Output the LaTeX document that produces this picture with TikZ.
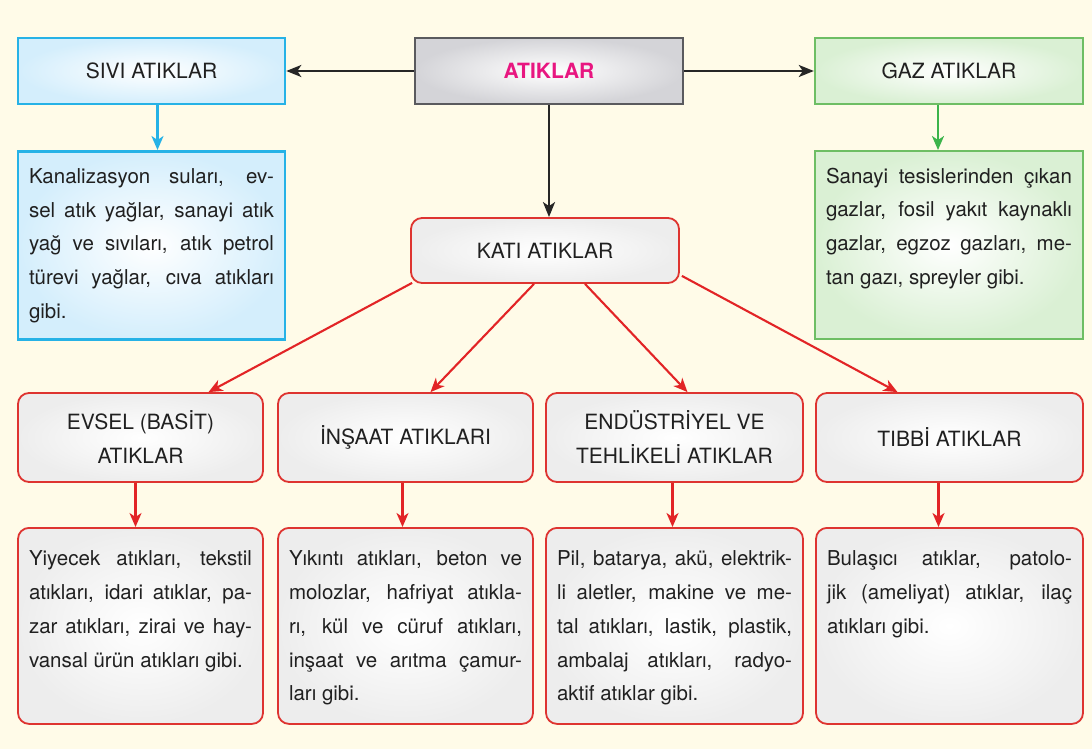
\documentclass[tikz,border=0pt]{standalone}
\usepackage{fontspec}
\setmainfont{TeX Gyre Heros}
\usetikzlibrary{arrows.meta}

\definecolor{bgcream}{RGB}{255,251,232}
\definecolor{sivicyan}{RGB}{38,178,230}
\definecolor{sivifill}{RGB}{212,238,252}
\definecolor{gazgreen}{RGB}{110,190,100}
\definecolor{gazarrow}{RGB}{60,180,75}
\definecolor{gazfill}{RGB}{218,240,212}
\definecolor{katired}{RGB}{222,52,48}
\definecolor{redline}{RGB}{226,36,38}
\definecolor{topgray}{RGB}{90,90,94}
\definecolor{topfill}{RGB}{212,212,216}
\definecolor{titlepink}{RGB}{232,22,128}
\definecolor{textgray}{RGB}{32,32,32}

\begin{document}
\begin{tikzpicture}[x=1pt,y=-1pt,
  every node/.style={text=textgray,font=\fontsize{21}{34}\selectfont},
  head/.style={minimum height=66pt,inner sep=0pt,align=center},
  body/.style={font=\fontsize{20.5}{33.75}\selectfont,align=justify,anchor=north,
    inner xsep=11pt,inner ysep=22pt,text height=16pt},
  sivibox/.style={draw=sivicyan,line width=2.6pt,inner color=white,outer color=sivifill},
  gazbox/.style={draw=gazgreen,line width=2.4pt,inner color=white,outer color=gazfill},
  redbox/.style={draw=katired,line width=1.8pt,rounded corners=11pt,inner color=white,outer color=gray!14},
  blackarrow/.style={draw=black!85,line width=2.4pt,-{Stealth[length=15pt,width=12pt,inset=4pt]}},
  bluearrow/.style={draw=sivicyan,line width=2.2pt,-{Stealth[length=14pt,width=12pt,inset=4pt]}},
  greenarrow/.style={draw=gazarrow,line width=2.2pt,-{Stealth[length=14pt,width=12pt,inset=4pt]}},
  redarrow/.style={draw=redline,line width=2.1pt,-{Stealth[length=14pt,width=12pt,inset=4pt]}}]
%\draw[help lines] (0,0) grid[step=50] (1092,749);
\fill[bgcream] (0,0) rectangle (1092,749);

% top row
\node[head,sivibox,minimum width=267pt] (sivi) at (151.5,71) {SIVI ATIKLAR};
\node[head,draw=topgray,line width=2.6pt,inner color=white,outer color=topfill,minimum width=268pt,
  text=titlepink,font=\fontsize{21}{34}\selectfont\bfseries] (atiklar) at (549,71) {ATIKLAR};
\node[head,gazbox,minimum width=268pt] (gaz) at (949,71) {GAZ ATIKLAR};

\node[body,sivibox,inner ysep=16pt,text width=245pt,text depth=140pt] (sivitext) at (151.5,150)
  {Kanalizasyon suları, ev-\linebreak sel atık yağlar, sanayi atık\linebreak yağ ve sıvıları, atık petrol\linebreak türevi yağlar, cıva atıkları\linebreak gibi.};
\node[body,gazbox,inner ysep=16pt,text width=246pt,text depth=140pt] (gaztext) at (949,150)
  {Sanayi tesislerinden çıkan\linebreak gazlar, fosil yakıt kaynaklı\linebreak gazlar, egzoz gazları, me-\linebreak tan gazı, spreyler gibi.};

\node[head,redbox,minimum width=268pt,minimum height=65pt] (kati) at (545,250.5) {KATI ATIKLAR};

% second row
\node[head,redbox,minimum width=245pt,minimum height=89pt] (evsel) at (140.5,437.5) {EVSEL (BASİT)\\ATIKLAR};
\node[head,redbox,minimum width=255pt,minimum height=89pt] (insaat) at (405.5,437.5) {İNŞAAT ATIKLARI};
\node[head,redbox,minimum width=257pt,minimum height=89pt] (endustri) at (674.5,437.5) {ENDÜSTRİYEL VE\\TEHLİKELİ ATIKLAR};
\node[head,redbox,minimum width=267pt,minimum height=89pt] (tibbi) at (949.5,437.5) {TIBBİ ATIKLAR};

% bottom row
\node[body,redbox,text width=223pt,text depth=136pt] (evseltext) at (140.5,527)
  {Yiyecek atıkları, tekstil\linebreak atıkları, idari atıklar, pa-\linebreak zar atıkları, zirai ve hay-\linebreak vansal ürün atıkları gibi.};
\node[body,redbox,text width=233pt,text depth=136pt] (insaattext) at (405.5,527)
  {Yıkıntı atıkları, beton ve\linebreak molozlar, hafriyat atıkla-\linebreak rı, kül ve cüruf atıkları,\linebreak inşaat ve arıtma çamur-\linebreak ları gibi.};
\node[body,redbox,text width=235pt,text depth=136pt] (endustritext) at (674.5,527)
  {Pil, batarya, akü, elektrik-\linebreak li aletler, makine ve me-\linebreak tal atıkları, lastik, plastik,\linebreak ambalaj atıkları, radyo-\linebreak aktif atıklar gibi.};
\node[body,redbox,text width=245pt,text depth=136pt] (tibbitext) at (949.5,527)
  {Bulaşıcı atıklar, patolo-\linebreak jik (ameliyat) atıklar, ilaç\linebreak atıkları gibi.};

% arrows
\draw[blackarrow] (atiklar.west) -- (sivi.east);
\draw[blackarrow] (atiklar.east) -- (gaz.west);
\draw[blackarrow] (atiklar.south) -- (atiklar.south |- kati.north);
\draw[bluearrow] ([xshift=6pt]sivi.south) -- ([xshift=6pt]sivitext.north);
\draw[greenarrow] ([xshift=-11pt]gaz.south) -- ([xshift=-11pt]gaztext.north);

\draw[redarrow] ([xshift=2pt,yshift=1pt]kati.south west) -- ([xshift=68pt]evsel.north);
\draw[redarrow] ([xshift=-11pt]kati.south) -- ([xshift=25pt]insaat.north);
\draw[redarrow] ([xshift=40pt]kati.south) -- ([xshift=13pt]endustri.north);
\draw[redarrow] ([xshift=2pt,yshift=8pt]kati.south east) -- ([xshift=-52pt]tibbi.north);

\draw[redarrow] ([xshift=-5pt]evsel.south) -- ([xshift=-5pt]evseltext.north);
\draw[redarrow] ([xshift=-3pt]insaat.south) -- ([xshift=-3pt]insaattext.north);
\draw[redarrow] ([xshift=-2pt]endustri.south) -- ([xshift=-2pt]endustritext.north);
\draw[redarrow] ([xshift=-11pt]tibbi.south) -- ([xshift=-11pt]tibbitext.north);
\end{tikzpicture}
\end{document}
